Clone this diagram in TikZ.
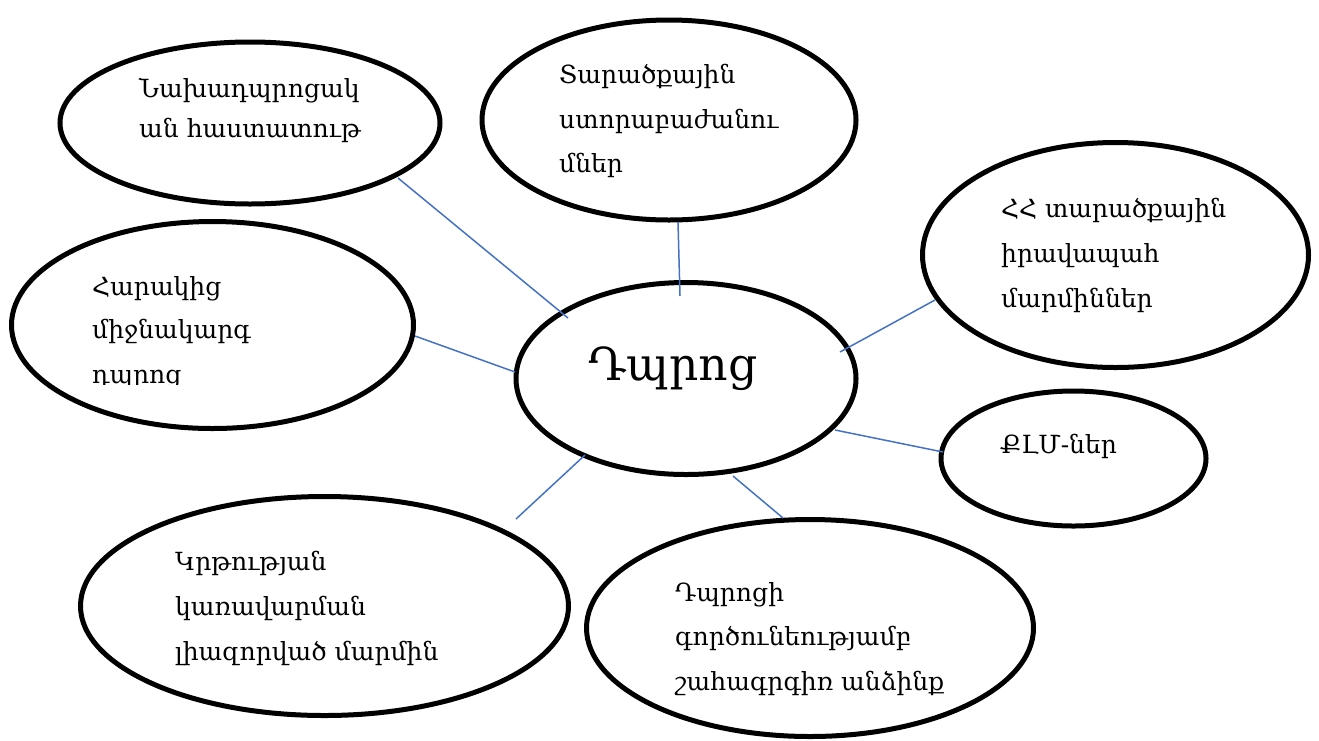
\documentclass[tikz,border=0pt]{standalone}
\usepackage{fontspec}
\setmainfont{DejaVu Serif}
\usetikzlibrary{shapes.geometric}
\definecolor{linkblue}{HTML}{4472C4}
\tikzset{
  bub/.style={draw=black, line width=5pt, ellipse, inner sep=0pt, fill=white},
  lbl/.style={anchor=base west, inner sep=0pt, font=\fontsize{25}{30}\selectfont},
  link/.style={draw=linkblue, line width=1.5pt}
}
\begin{document}
\begin{tikzpicture}[x=1pt,y=-1pt]
\useasboundingbox (0,0) rectangle (1319,740);
% connectors
\coordinate (a1) at (398,178); \coordinate (e1) at (568,318);
\coordinate (b1) at (678,222); \coordinate (e2) at (680,296);
\coordinate (c1) at (935,300); \coordinate (e3) at (840,352);
\coordinate (d1) at (415,336); \coordinate (e4) at (515,372);
\coordinate (f1) at (943,452); \coordinate (e5) at (835,430);
\coordinate (g1) at (516,519); \coordinate (e6) at (585,455);
\coordinate (h1) at (783,518); \coordinate (e7) at (733,476);
% ellipses
\node[bub, minimum width=380pt, minimum height=162pt] (A) at (250,123) {};
\node[bub, minimum width=374pt, minimum height=200pt] (B) at (669,120) {};
\node[bub, minimum width=386pt, minimum height=225pt] (C) at (1115.5,255) {};
\node[bub, minimum width=402pt, minimum height=207pt] (D) at (212.5,325) {};
\node[bub, minimum width=340pt, minimum height=192pt] (E) at (686,378.5) {};
\node[bub, minimum width=265pt, minimum height=135pt] (F) at (1073.5,458.5) {};
\node[bub, minimum width=488pt, minimum height=219pt] (G) at (324.5,606) {};
\node[bub, minimum width=447pt, minimum height=217pt] (H) at (810,628) {};
\draw[link] (a1) -- (e1);
\draw[link] (b1) -- (e2);
\draw[link] (c1) -- (e3);
\draw[link] (d1) -- (e4);
\draw[link] (f1) -- (e5);
\draw[link] (g1) -- (e6);
\draw[link] (h1) -- (e7);
% texts
\node[lbl] (A1) at (139,97) {Նախադպրոցակ};
\node[lbl] (A2) at (139,137) {ան հաստատութ};
\node[lbl] (B1) at (559,83) {Տարածքային};
\node[lbl] (B2) at (559,128) {ստորաբաժանու};
\node[lbl] (B3) at (559,172) {մներ};
\node[lbl] (C1) at (1001,217) {ՀՀ տարածքային};
\node[lbl] (C2) at (1001,262) {իրավապահ};
\node[lbl] (C3) at (1001,307) {մարմիններ};
\node[lbl] (D1) at (92,295) {Հարակից};
\node[lbl] (D2) at (92,338) {միջնակարգ};
\begin{scope}
\clip (80,345) rectangle (400,384);
\node[lbl] (D3) at (92,383) {դպրոց};
\end{scope}
\node[lbl, anchor=base, font=\fontsize{45.5}{54}\selectfont] (E1) at (673,380) {Դպրոց};
\node[lbl] (F1) at (1000,453) {ՔԼՄ-ներ};
\node[lbl] (G1) at (175,570) {Կրթության};
\node[lbl] (G2) at (175,615) {կառավարման};
\node[lbl] (G3) at (175,660) {լիազորված մարմին};
\node[lbl] (H1) at (675,601) {Դպրոցի};
\node[lbl] (H2) at (675,645) {գործունեությամբ};
\node[lbl] (H3) at (675,690) {շահագրգիռ անձինք};
\end{tikzpicture}
\end{document}
